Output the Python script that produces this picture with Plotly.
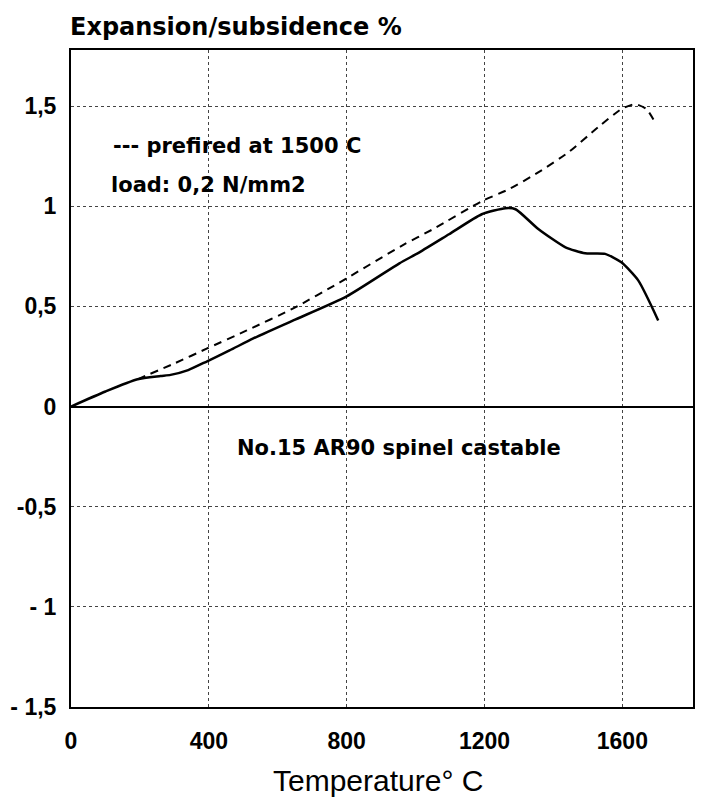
import plotly.graph_objects as go

# Data
temp_solid = [0, 100, 193, 260, 289, 340, 395, 460, 529, 645, 800, 953, 1011, 1097,
              1192, 1261, 1290, 1357, 1435, 1492, 1550, 1597, 1646, 1704]
exp_solid = [0, 0.075, 0.136, 0.152, 0.158, 0.182, 0.226, 0.28, 0.34, 0.43, 0.55, 0.715,
             0.77, 0.86, 0.96, 0.99, 0.985, 0.885, 0.795, 0.765, 0.762, 0.72, 0.63, 0.43]

temp_dash = [193, 300, 395, 510, 645, 780, 962, 1050, 1192, 1271, 1357, 1444, 1530,
             1597, 1637, 1670, 1698]
exp_dash = [0.136, 0.215, 0.29, 0.38, 0.49, 0.62, 0.805, 0.885, 1.025, 1.085, 1.17,
            1.27, 1.395, 1.485, 1.51, 1.485, 1.41]

x_ticks = [0, 400, 800, 1200, 1600]
x_ticktext = ["0", "400", "800", "1200", "1600"]
y_ticks = [-1.5, -1, -0.5, 0, 0.5, 1, 1.5]
y_ticktext = ["- 1,5", "- 1", "-0,5", "0", "0,5", "1", "1,5"]

fig = go.Figure()
fig.add_trace(go.Scatter(x=temp_dash, y=exp_dash, mode="lines",
                         line=dict(color="black", width=2, dash="8px,6px", shape="spline", smoothing=0.6),
                         showlegend=False, hoverinfo="skip"))
fig.add_trace(go.Scatter(x=temp_solid, y=exp_solid, mode="lines",
                         line=dict(color="black", width=2.5, shape="spline", smoothing=0.6),
                         showlegend=False, hoverinfo="skip"))

tickfont = dict(family="Liberation Sans, Arial, sans-serif", size=23, color="black", weight="bold")
annfont = dict(family="DejaVu Sans, sans-serif", size=21, color="black", weight="bold")

fig.update_xaxes(range=[0, 1805], tickvals=x_ticks, ticktext=x_ticktext,
                 showgrid=True, gridcolor="#444", griddash="dot", gridwidth=1,
                 showline=True, linecolor="black", linewidth=2, mirror=True,
                 zeroline=False, ticks="", tickfont=tickfont, ticklabelstandoff=12)
fig.update_yaxes(range=[-1.5, 1.78], tickvals=y_ticks, ticktext=y_ticktext,
                 showgrid=True, gridcolor="#444", griddash="dot", gridwidth=1,
                 showline=True, linecolor="black", linewidth=2, mirror=True,
                 zeroline=True, zerolinecolor="black", zerolinewidth=2,
                 ticks="", tickfont=tickfont, ticklabelstandoff=8)

H_PLOT = 657.0
def py(ypx):
    return (707 - ypx) / H_PLOT
def px(xpx):
    return (xpx - 70) / 625.0

anns = [
    ("Expansion/subsidence %", 67, 27, 24),
    ("--- prefired at 1500 C", 110, 146, 21),
    ("load: 0,2 N/mm2", 108, 185, 21),
    ("No.15 AR90 spinel castable", 235, 448, 21),
]
for text, xp, yp, sz in anns:
    f = dict(annfont)
    f["size"] = sz
    fig.add_annotation(text=text, xref="paper", yref="paper", x=px(xp), y=py(yp),
                       xanchor="left", yanchor="middle", showarrow=False, font=f)

fig.add_annotation(text="Temperature° C", xref="paper", yref="paper", x=px(378), y=py(780),
                   xanchor="center", yanchor="middle", showarrow=False,
                   font=dict(family="Liberation Sans, Arial, sans-serif", size=30, color="black"))

fig.update_layout(width=705, height=804, margin=dict(l=70, r=10, t=50, b=97),
                  plot_bgcolor="white", paper_bgcolor="white")

fig.write_html("out.html")
